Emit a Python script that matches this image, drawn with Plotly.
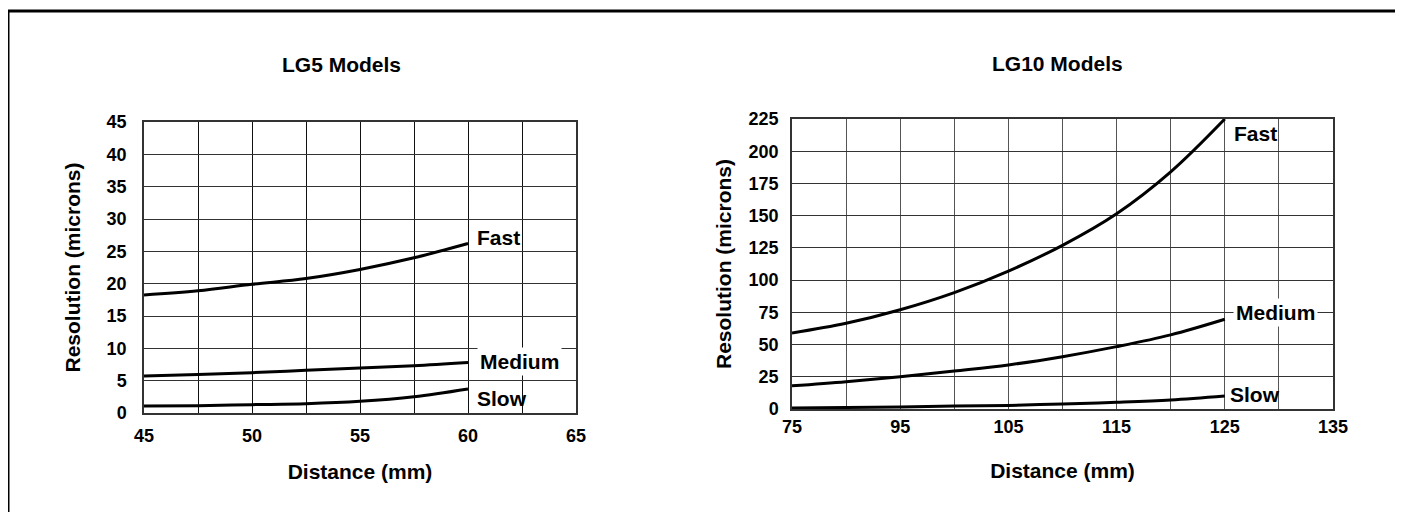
import plotly.graph_objects as go

W, H = 1403, 512
OFF = 8  # page body margin that shifts the figure inside the browser window

# ---------------- data ----------------
lg5_x = [45, 47.5, 50, 52.5, 55, 57.5, 60]
lg5_fast = [18.25, 18.9, 19.9, 20.8, 22.2, 24.0, 26.2]
lg5_medium = [5.72, 5.95, 6.24, 6.6, 6.95, 7.3, 7.8]
lg5_slow = [1.08, 1.13, 1.29, 1.44, 1.8, 2.5, 3.7]

lg10_x = [85, 90, 95, 100, 105, 110, 115, 120, 125]
lg10_fast = [59, 66.5, 77, 90.3, 107, 127, 151.5, 184, 225]
lg10_medium = [18, 21.2, 25.1, 29.5, 34.2, 40.6, 48.4, 57.5, 69.6]
lg10_slow = [0.8, 1.2, 1.6, 2.3, 2.8, 3.9, 5.2, 7.0, 10.1]

lg5_xticks = [45, 47.5, 50, 52.5, 55, 57.5, 60, 62.5, 65]
lg5_xtext = ["45", "", "50", "", "55", "", "60", "", "65"]
lg5_yticks = [0, 5, 10, 15, 20, 25, 30, 35, 40, 45]

lg10_xticks = [85, 90, 95, 100, 105, 110, 115, 120, 125, 130, 135]
lg10_xtext = ["75", "", "95", "", "105", "", "115", "", "125", "", "135"]
lg10_yticks = [0, 25, 50, 75, 100, 125, 150, 175, 200, 225]

series_names = ["Fast", "Medium", "Slow"]
lg5_label_pos = [(60.3, 27.1), (60.4, 8.0), (60.3, 2.3)]
lg10_label_pos = [(125.6, 213.6), (125.8, 74.6), (125.2, 10.9)]

# ---------------- style ----------------
FONT = "Liberation Sans, Arial, sans-serif"
TXT = dict(family=FONT, size=21, color="black", weight="bold")
TICK = dict(family=FONT, size=18, color="black", weight="bold")


def px_x(p):
    return (p - OFF) / W


def px_y(p):
    return 1 - (p - OFF) / H


fig = go.Figure()

for ys in (lg5_fast, lg5_medium, lg5_slow):
    fig.add_trace(go.Scatter(x=lg5_x, y=ys, mode="lines", line=dict(color="black", width=3, shape="spline"),
                             xaxis="x", yaxis="y", showlegend=False, hoverinfo="skip"))
for ys in (lg10_fast, lg10_medium, lg10_slow):
    fig.add_trace(go.Scatter(x=lg10_x, y=ys, mode="lines", line=dict(color="black", width=3, shape="spline"),
                             xaxis="x2", yaxis="y2", showlegend=False, hoverinfo="skip"))

axis_common = dict(showline=True, mirror=True, linecolor="#333", linewidth=1.5, zeroline=False,
                   ticks="", automargin=False, fixedrange=True, tickfont=TICK)

fig.update_layout(
    width=W, height=H,
    margin=dict(l=0, r=0, t=0, b=0),
    paper_bgcolor="white", plot_bgcolor="white",
    xaxis=dict(axis_common, domain=[px_x(144), px_x(576)], range=[45, 65], tickvals=lg5_xticks,
               ticktext=lg5_xtext, showgrid=True, gridcolor="#111", gridwidth=1, anchor="y",
               ticklabelstandoff=6,
               title=dict(text="Distance (mm)", font=TXT, standoff=19)),
    yaxis=dict(axis_common, domain=[px_y(413), px_y(122)], range=[0, 45], tickvals=lg5_yticks,
               showgrid=True, gridcolor="#333", gridwidth=1, anchor="x", ticklabelstandoff=12,
               title=dict(text="Resolution (microns)", font=TXT, standoff=20)),
    xaxis2=dict(axis_common, domain=[px_x(792), px_x(1333)], range=[85, 135], tickvals=lg10_xticks,
                ticktext=lg10_xtext, showgrid=True, gridcolor="#555", gridwidth=1, anchor="y2",
                ticklabelstandoff=1,
                title=dict(text="Distance (mm)", font=TXT, standoff=27)),
    yaxis2=dict(axis_common, domain=[px_y(409), px_y(119)], range=[0, 225], tickvals=lg10_yticks,
                showgrid=True, gridcolor="#333", gridwidth=1, anchor="x2", ticklabelstandoff=8,
                title=dict(text="Resolution (microns)", font=TXT, standoff=11)),
)

annotations = [
    dict(text="LG5 Models", x=px_x(341), y=px_y(64), xref="paper", yref="paper", showarrow=False,
         xanchor="center", yanchor="middle", font=TXT),
    dict(text="LG10 Models", x=px_x(1057), y=px_y(63), xref="paper", yref="paper", showarrow=False,
         xanchor="center", yanchor="middle", font=TXT),
]
for name, (lx, ly) in zip(series_names, lg5_label_pos):
    annotations.append(dict(text=name, x=lx, y=ly, xref="x", yref="y", showarrow=False, xanchor="left",
                            yanchor="middle", font=TXT, bgcolor="white" if name == "Medium" else None,
                            borderpad=2))
for name, (lx, ly) in zip(series_names, lg10_label_pos):
    annotations.append(dict(text=name, x=lx, y=ly, xref="x2", yref="y2", showarrow=False, xanchor="left",
                            yanchor="middle", font=TXT, bgcolor="white" if name == "Medium" else None,
                            borderpad=2))
fig.update_layout(annotations=annotations)

fig.add_shape(type="rect", xref="paper", yref="paper", x0=px_x(8), x1=px_x(1399), y0=-0.1, y1=px_y(11),
              line=dict(color="black", width=3), fillcolor="rgba(0,0,0,0)", layer="above")

fig.write_html("out.html")
